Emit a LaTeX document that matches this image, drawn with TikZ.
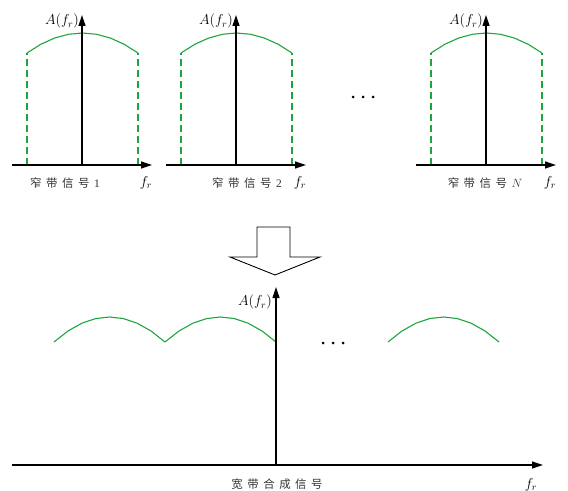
\documentclass[tikz,border=0pt]{standalone}
\usepackage{fontspec}
\setmainfont{Liberation Serif}
\newfontfamily\cjk{Noto Sans CJK SC}
\usetikzlibrary{arrows.meta}
\definecolor{sig}{RGB}{30,165,60}
\newcommand\gap{\hspace{4.5bp}}
\tikzset{
  axis/.style={line width=1.2bp, -{Triangle[length=11bp,width=7bp]}},
  sigline/.style={sig, line width=1.1bp},
  sigdash/.style={sig, line width=1.1bp, dash pattern=on 7bp off 4bp},
  mathlbl/.style={font=\fontsize{14}{16}\selectfont, inner sep=0pt},
  zhlbl/.style={font=\fontsize{11.5}{13}\selectfont, inner sep=0pt, text=black!80},
  bigarrow/.style={draw=black, line width=0.9bp, fill=white},
  dot/.style={fill=black}
}
\begin{document}
\begin{tikzpicture}[x=1bp,y=-1bp]
\useasboundingbox (0,0) rectangle (568,491);
% top panels
\foreach \c/\n in {82/1, 236/2, 486/3} {
  \coordinate (o\n) at (\c,165);
  \coordinate (t\n) at (\c,15);
  \coordinate (xs\n) at (\c-70,165);
  \coordinate (xe\n) at (\c+70,165);
  \coordinate (lb\n) at (\c-55,165);
  \coordinate (lt\n) at (\c-55,53);
  \coordinate (rb\n) at (\c+56,165);
  \coordinate (rt\n) at (\c+56,53);
  \draw[sigdash] (lb\n) -- (lt\n);
  \draw[sigdash] (rb\n) -- (rt\n);
  \draw[sigline] plot[domain=-1:1, samples=9] ({\c+0.5+55.5*\x}, {33+20*(\x)^2});
  \draw[axis] (xs\n) -- (xe\n);
  \draw[axis] (o\n) -- (t\n);
  \node[mathlbl, anchor=east] (A\n) at (\c-3,21) {$A\Bigl(f_r\Bigr)$};
  \node[mathlbl] (f\n) at (\c+64,183) {$f_r$};
}
\node[zhlbl] (n1) at (65,183) {\cjk 窄\gap 带\gap 信\gap 号\gap\rmfamily 1};
\node[zhlbl] (n2) at (247,183) {\cjk 窄\gap 带\gap 信\gap 号\gap\rmfamily 2};
\node[zhlbl] (n3) at (485,183) {\cjk 窄\gap 带\gap 信\gap 号\gap\rmfamily $N$};
% top dots
\foreach \x in {353,363,373} \fill[dot] (\x,97) circle (1.5);
% big arrow
\draw[bigarrow] (257,227) -- (290,227) -- (290,257) -- (320,257) -- (275,275) -- (230,257) -- (257,257) -- cycle;
% bottom panel
\coordinate (bo) at (276,465);
\coordinate (bt) at (276,287);
\coordinate (bxs) at (12,465);
\coordinate (bxe) at (543,465);
\foreach \c in {109.5,220.5,443.5} {
  \draw[sigline] plot[domain=-1:1, samples=9] ({\c+55.5*\x}, {317+25*(\x)^2});
}
\draw[axis] (bxs) -- (bxe);
\draw[axis] (bo) -- (bt);
\node[mathlbl, anchor=east] (Ab) at (272,302) {$A\Bigl(f_r\Bigr)$};
\node[mathlbl, anchor=south] (fb) at (531,491) {$f_r$};
\node[zhlbl] (wb) at (277,484) {\cjk 宽\gap 带\gap 合\gap 成\gap 信\gap 号};
\foreach \x in {323,333,343} \fill[dot] (\x,343) circle (1.5);
\end{tikzpicture}
\end{document}
